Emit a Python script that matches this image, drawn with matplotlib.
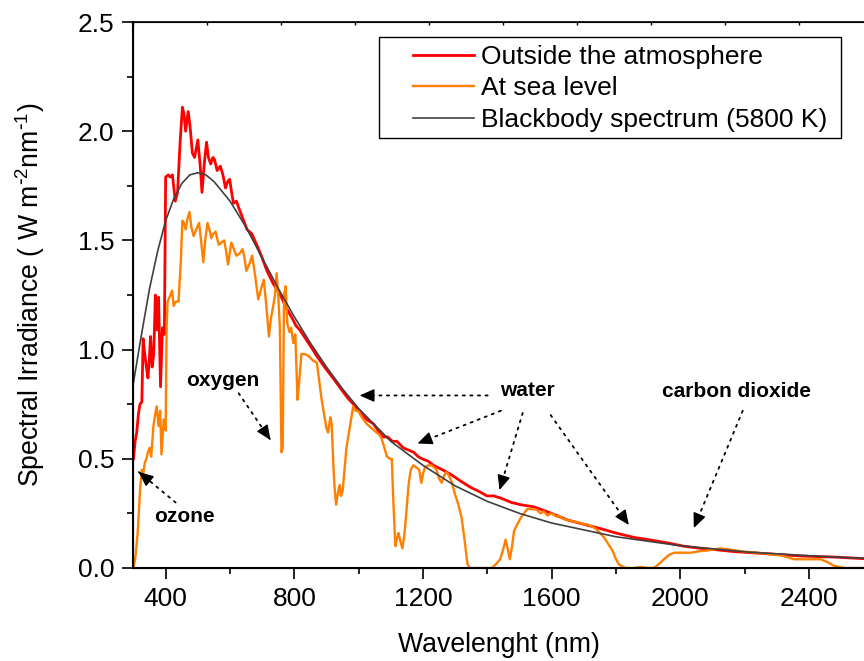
import numpy as np
import matplotlib.pyplot as plt

# spectrum outside the atmosphere
wl_out = [300, 305, 310, 315, 320, 326, 330, 335, 340, 345, 349, 353, 358, 363, 368, 373, 378, 384, 390, 396,
          400, 408, 414, 421, 430, 437, 445, 452, 457, 462, 470, 476, 483, 490, 500, 507, 513, 520, 527, 533,
          540, 547, 552, 560, 570, 578, 586, 593, 599, 605, 611, 620, 627, 640, 653, 668, 680, 689, 700, 715,
          725, 735, 748, 760, 775, 791, 805, 817, 835, 853, 870, 894, 920, 940, 965, 984, 1005, 1025, 1046, 1060,
          1077, 1090, 1105, 1119, 1139, 1155, 1171, 1185, 1197, 1215, 1233, 1260, 1285, 1315, 1347, 1375, 1399,
          1420, 1442, 1475, 1503, 1545, 1600, 1649, 1700, 1753, 1800, 1856, 1900, 1960, 2010, 2063, 2115, 2167,
          2220, 2270, 2320, 2374, 2430, 2478, 2530, 2580]
irr_out = [0.50, 0.58, 0.62, 0.70, 0.75, 0.76, 1.05, 0.98, 0.92, 0.87, 0.95, 1.06, 0.92, 0.98, 1.25, 1.09, 1.24, 0.83, 1.10, 1.07,
           1.79, 1.80, 1.79, 1.80, 1.68, 1.72, 1.95, 2.11, 2.08, 2.00, 2.09, 2.02, 1.90, 1.88, 1.96, 1.85, 1.72, 1.85, 1.95, 1.88,
           1.85, 1.88, 1.87, 1.82, 1.84, 1.80, 1.74, 1.77, 1.78, 1.72, 1.67, 1.68, 1.65, 1.60, 1.55, 1.53, 1.49, 1.46, 1.42, 1.36,
           1.33, 1.30, 1.27, 1.24, 1.19, 1.15, 1.11, 1.09, 1.05, 1.01, 0.97, 0.92, 0.87, 0.83, 0.78, 0.75, 0.71, 0.68, 0.66, 0.63,
           0.60, 0.60, 0.58, 0.58, 0.55, 0.54, 0.53, 0.51, 0.50, 0.49, 0.47, 0.45, 0.43, 0.40, 0.37, 0.35, 0.33,
           0.33, 0.32, 0.30, 0.29, 0.28, 0.25, 0.22, 0.20, 0.18, 0.16, 0.14, 0.13, 0.115, 0.10, 0.09, 0.083, 0.075,
           0.07, 0.065, 0.06, 0.055, 0.052, 0.05, 0.046, 0.042]

# spectrum at sea level
wl_sea = [300, 306, 313, 321, 326, 330, 335, 340, 345, 350, 355, 362, 367, 372, 378, 383, 387, 394, 400, 403,
          406, 415, 420, 425, 432, 440, 447, 452, 457, 462, 468, 474, 480, 487, 495, 504, 510, 517, 523, 530,
          536, 542, 548, 555, 565, 573, 582, 588, 594, 604, 612, 620, 630, 639, 645, 651, 660, 669, 677, 688,
          697, 705, 713, 721, 727, 732, 740, 745, 750, 755, 760, 764, 768, 773, 778, 785, 790, 797, 803, 810,
          815, 822, 832, 845, 858, 870, 878, 885, 893, 900, 905, 912, 916, 922, 926, 930, 935, 941, 945, 950,
          962, 972, 983, 990, 998, 1010, 1025, 1040, 1056, 1065, 1072, 1080, 1088, 1097, 1103, 1108, 1114, 1120,
          1124, 1130, 1136, 1142, 1148, 1155, 1162, 1170, 1180, 1188, 1195, 1200, 1206, 1216, 1226, 1235, 1242,
          1250, 1258, 1265, 1272, 1278, 1288, 1299, 1310, 1320, 1330, 1338, 1345, 1380, 1415, 1428, 1440, 1452,
          1457, 1463, 1470, 1477, 1483, 1493, 1504, 1514, 1524, 1535, 1545, 1555, 1565, 1575, 1587, 1597, 1607,
          1615, 1623, 1635, 1649, 1660, 1680, 1700, 1711, 1725, 1737, 1750, 1763, 1776, 1789, 1800, 1810, 1830,
          1856, 1877, 1900, 1918, 1935, 1949, 1965, 1981, 2033, 2060, 2084, 2125, 2160, 2198, 2240, 2270, 2310,
          2333, 2353, 2400, 2436, 2460, 2478, 2509, 2580]
irr_sea = [0.00, 0.05, 0.16, 0.37, 0.45, 0.43, 0.48, 0.50, 0.53, 0.55, 0.51, 0.65, 0.70, 0.74, 0.65, 0.72, 0.52, 0.68, 0.63, 1.10,
           1.22, 1.25, 1.27, 1.20, 1.22, 1.22, 1.40, 1.59, 1.58, 1.55, 1.60, 1.63, 1.56, 1.52, 1.55, 1.58, 1.50, 1.40, 1.50, 1.58,
           1.55, 1.51, 1.53, 1.54, 1.48, 1.49, 1.50, 1.45, 1.39, 1.49, 1.46, 1.43, 1.44, 1.46, 1.42, 1.36, 1.39, 1.43, 1.35, 1.23,
           1.28, 1.32, 1.20, 1.06, 1.14, 1.18, 1.25, 1.35, 1.25, 1.10, 0.53, 0.55, 1.25, 1.29, 1.12, 1.08, 1.10, 1.03, 1.07, 0.77,
           0.85, 0.98, 0.98, 0.97, 0.95, 0.94, 0.85, 0.77, 0.70, 0.64, 0.62, 0.69, 0.66, 0.45, 0.35, 0.29, 0.34, 0.38, 0.33, 0.35,
           0.55, 0.64, 0.74, 0.72, 0.72, 0.69, 0.66, 0.64, 0.62, 0.61, 0.59, 0.55, 0.51, 0.50, 0.50, 0.30, 0.10, 0.14,
           0.16, 0.12, 0.09, 0.15, 0.25, 0.38, 0.45, 0.47, 0.46, 0.45, 0.39, 0.43, 0.46, 0.47, 0.47, 0.46, 0.45,
           0.41, 0.39, 0.42, 0.44, 0.43, 0.40, 0.34, 0.29, 0.23, 0.12, 0.02, 0.00, 0.00, 0.00, 0.02, 0.04, 0.10,
           0.13, 0.09, 0.04, 0.10, 0.17, 0.20, 0.23, 0.25, 0.27, 0.27, 0.27, 0.265, 0.25, 0.26, 0.24, 0.25, 0.245,
           0.235, 0.24, 0.225, 0.22, 0.215, 0.21, 0.20, 0.20, 0.19, 0.18, 0.16, 0.14, 0.11, 0.08, 0.04, 0.015, 0.00,
           0.00, 0.005, 0.00, 0.00, 0.02, 0.04, 0.06, 0.07, 0.07, 0.077, 0.08, 0.09, 0.083, 0.075, 0.07, 0.065, 0.058,
           0.05, 0.04, 0.04, 0.04, 0.025, 0.01, 0.00, 0.00]

# blackbody curve (5800 K)
wl_bb = [300, 325, 350, 375, 400, 425, 450, 475, 500, 525, 550, 600, 650, 700, 750, 800, 850, 900, 950, 1000,
         1100, 1200, 1300, 1400, 1500, 1600, 1800, 2000, 2200, 2400, 2600]
irr_bb = [0.85, 1.07, 1.28, 1.45, 1.59, 1.69, 1.76, 1.80, 1.81, 1.80, 1.77, 1.68, 1.56, 1.42, 1.28, 1.15, 1.03, 0.92, 0.82, 0.73,
          0.58, 0.47, 0.376, 0.305, 0.25, 0.206, 0.143, 0.102, 0.074, 0.056, 0.042]

# annotations: label, text position, list of (start, tip)
labels = {
    "oxygen": ((577, 0.86), [((627, 0.80), (726, 0.586))]),
    "ozone": ((459, 0.234), [((431, 0.30), (316, 0.44))]),
    "water": ((1525, 0.815), [((1401, 0.79), (1003, 0.79)),
                              ((1442, 0.72), (1183, 0.57)),
                              ((1510, 0.71), (1438, 0.357)),
                              ((1597, 0.70), (1840, 0.197))]),
    "carbon dioxide": ((2176, 0.806), [((2194, 0.72), (2042, 0.183))]),
}

plt.rcParams['font.family'] = ['Liberation Sans', 'DejaVu Sans']
plt.rcParams['mathtext.default'] = 'regular'

W, H = 864, 661
fig = plt.figure(figsize=(W / 100, H / 100), dpi=100)
ax = fig.add_axes([0.1545, 0.1407, 0.8455, 0.826])

ax.plot(wl_out, irr_out, color='#ff0000', lw=2.0, label='Outside the atmosphere')
ax.plot(wl_sea, irr_sea, color='#ff8000', lw=1.7, label='At sea level')
ax.plot(wl_bb, irr_bb, color='#404040', lw=1.2, label='Blackbody spectrum (5800 K)')

ax.set_xlim(300, 2571)
ax.set_ylim(0, 2.5)
ax.set_xticks([400, 800, 1200, 1600, 2000, 2400])
ax.set_xticks([600, 1000, 1400, 1800, 2200], minor=True)
ax.set_yticks([0.0, 0.5, 1.0, 1.5, 2.0, 2.5])
ax.set_yticks([0.25, 0.75, 1.25, 1.75, 2.25], minor=True)
ax.yaxis.set_major_formatter(plt.FormatStrFormatter('%.1f'))
ax.tick_params(which='major', direction='out', length=8, width=1.2, labelsize=19, pad=6)
ax.tick_params(which='minor', direction='out', length=4.5, width=1.2)
ax.spines['right'].set_visible(False)
for s in ['left', 'bottom']:
    ax.spines[s].set_linewidth(1.5)
ax.spines['top'].set_linewidth(1.2)

top = ax.twiny()
top.set_xlim(ax.get_xlim())
top.set_xticks(np.arange(300, 2571, 230))
top.tick_params(direction='in', length=2.5, width=1, labeltop=False)
top.spines['right'].set_visible(False)

ax.set_xlabel('Wavelenght (nm)', fontsize=19.2, labelpad=15)
ax.set_ylabel(r'Spectral Irradiance ( W m$^{\text{-}2}$nm$^{\text{-}1}$)', fontsize=19.2, labelpad=22)

for name, (pos, arrows) in labels.items():
    ax.text(pos[0], pos[1], name, fontsize=15, fontweight='bold', ha='center', va='center')
    for start, tip in arrows:
        # dotted shaft
        ax.annotate('', xy=tip, xytext=start,
                    arrowprops=dict(arrowstyle='-', linestyle=(0, (1.2, 3)), color='black',
                                    lw=1.3, shrinkA=0, shrinkB=0))
        # solid head
        near = (tip[0] - 0.05 * (tip[0] - start[0]), tip[1] - 0.05 * (tip[1] - start[1]))
        ax.annotate('', xy=tip, xytext=near,
                    arrowprops=dict(arrowstyle='-|>,head_length=0.5,head_width=0.22',
                                    color='black', lw=1.0, mutation_scale=18,
                                    shrinkA=0, shrinkB=0))

# legend: entries without frame, box drawn separately (wide left margin)
leg = ax.legend(loc='upper left', bbox_to_anchor=(413 / W, 1 - 45 / H),
                bbox_transform=fig.transFigure, fontsize=19, frameon=False,
                handlelength=2.3, handletextpad=0.27, labelspacing=0.28,
                borderpad=0, borderaxespad=0)
fig.add_artist(plt.Rectangle((379 / W, 1 - 138 / H), (841 - 379) / W, (138 - 37) / H,
                             transform=fig.transFigure, fill=False, ec='black', lw=1.0))

fig.savefig('out.png', dpi=100)
